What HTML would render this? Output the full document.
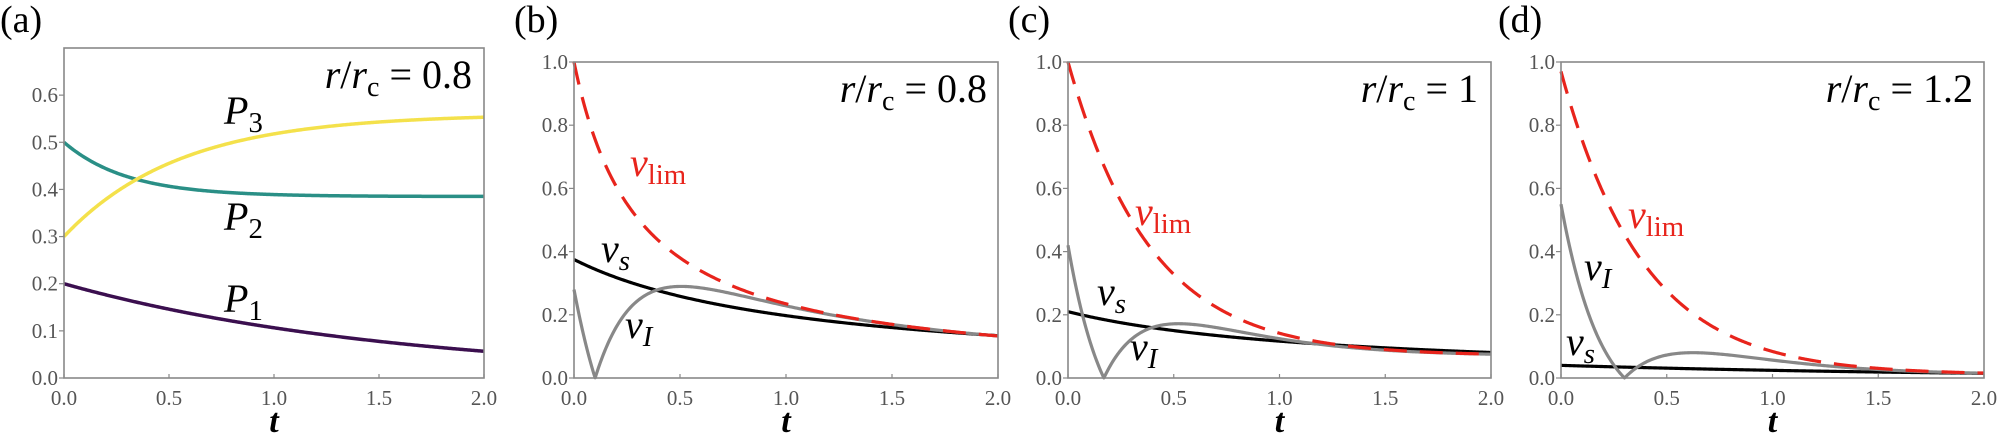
<!DOCTYPE html>
<html><head><meta charset="utf-8"></head>
<body style="margin:0;padding:0;background:#fff;">
<svg id="s" width="1998" height="435" viewBox="0 0 1998 435" xmlns="http://www.w3.org/2000/svg" style="display:block;font-family:'Liberation Serif','DejaVu Serif',serif;">
<text x="0" y="32" style="font-family:'Liberation Serif','DejaVu Serif',serif;font-size:38px;fill:#000;">(a)</text>
<text x="514" y="32" style="font-family:'Liberation Serif','DejaVu Serif',serif;font-size:38px;fill:#000;">(b)</text>
<text x="1008" y="32" style="font-family:'Liberation Serif','DejaVu Serif',serif;font-size:38px;fill:#000;">(c)</text>
<text x="1498" y="32" style="font-family:'Liberation Serif','DejaVu Serif',serif;font-size:38px;fill:#000;">(d)</text>
</svg>
<script>
var S=document.getElementById('s'),NS='http://www.w3.org/2000/svg';
var FF="font-family:'Liberation Serif','DejaVu Serif',serif;";
function el(t,a,txt){var e=document.createElementNS(NS,t);for(var k in a)e.setAttribute(k,a[k]);if(txt!==undefined)e.innerHTML=txt;S.appendChild(e);return e;}
function panel(x0,x1,y0,y1,ymax,yticks,curves){
  var X=function(t){return x0+(x1-x0)*t/2;},Y=function(v){return y1-(y1-y0)*v/ymax;};
  curves.forEach(function(c){
    var d='';for(var i=0;i<=400;i++){var t=2*i/400;var v=c.f(t);d+=(i?'L':'M')+X(t).toFixed(2)+' '+Y(v).toFixed(2);}
    var a={d:d,fill:'none',stroke:c.col,'stroke-width':c.w||3.2,'stroke-linejoin':'round'};
    if(c.dash)a['stroke-dasharray']=c.dash;
    el('path',a);
  });
  el('rect',{x:x0,y:y0,width:x1-x0,height:y1-y0,fill:'none',stroke:'#888','stroke-width':1.6});
  yticks.forEach(function(v){var y=Y(v);el('line',{x1:x0-5,y1:y,x2:x0,y2:y,stroke:'#888','stroke-width':1.2});
    el('text',{x:x0-6,y:y+7,'text-anchor':'end',style:FF+'font-size:21px;fill:#555;'},v.toFixed(1));});
  [0,0.5,1,1.5,2].forEach(function(t){var x=X(t);el('line',{x1:x,y1:y1,x2:x,y2:y1-4,stroke:'#888','stroke-width':1.2});
    el('text',{x:x,y:405,'text-anchor':'middle',style:FF+'font-size:21px;fill:#555;'},t.toFixed(1));});
  el('text',{x:(x0+x1)/2,y:432,'text-anchor':'middle',style:FF+'font-size:34px;font-style:italic;font-weight:bold;fill:#000;'},'t');
}
function ann(xr,y,val){el('text',{x:xr,y:y,'text-anchor':'end',style:FF+'font-size:40px;fill:#000;'},'<tspan style="font-style:italic">r</tspan>/<tspan style="font-style:italic">r</tspan><tspan style="font-size:28px" dy="8">c</tspan><tspan dy="-8"> = '+val+'</tspan>');}
function sub(x,y,main,s,col){var sz=40;el('text',{x:x,y:y,style:FF+'font-size:'+sz+'px;fill:'+(col||'#000')+';'},'<tspan style="font-style:italic">'+main+'</tspan><tspan style="font-size:'+(sz*0.72)+'px;'+(s.it?'font-style:italic;':'')+'" dy="8">'+s.t+'</tspan>');}
var RED='#e8241c',GR='#888';
panel(64,484,48,378,0.7,[0,0.1,0.2,0.3,0.4,0.5,0.6],[
 {f:function(t){return 0.2*Math.exp(-0.63*t);},col:'#3b0f4f',w:3.5},
 {f:function(t){return 0.385+0.115*Math.exp(-t/0.3);},col:'#2a8f86',w:3.5},
 {f:function(t){return 0.56-0.26*Math.exp(-t/0.55);},col:'#f4e14b',w:3.5}]);
ann(472,88,'0.8');
sub(224,124,'P',{t:'3'});sub(224,230,'P',{t:'2'});sub(224,312,'P',{t:'1'});
var vb=function(t){return 1/(1+3.26*t);};
panel(574,998,62,378,1,[0,0.2,0.4,0.6,0.8,1.0],[
 {f:function(t){return 0.375/(1+0.9*t);},col:'#000'},
 {f:function(t){return Math.abs(vb(t)-1.28*Math.exp(-5.3*t));},col:GR},
 {f:vb,col:RED,dash:'23 13'}]);
ann(987,102,'0.8');
sub(630,176,'v',{t:'lim'},RED);sub(601,262,'v',{t:'s',it:1});sub(625,338,'v',{t:'I',it:1});
var vc=function(t){return 0.07+0.93*Math.exp(-t/0.39);};
panel(1068,1491,62,378,1,[0,0.2,0.4,0.6,0.8,1.0],[
 {f:function(t){return 0.21/(1+0.8*t);},col:'#000'},
 {f:function(t){return Math.abs(vc(t)-1.42*Math.exp(-4.41*t));},col:GR},
 {f:vc,col:RED,dash:'23 13'}]);
ann(1478,102,'1');
sub(1135,225,'v',{t:'lim'},RED);sub(1097,305,'v',{t:'s',it:1});sub(1130,360,'v',{t:'I',it:1});
var vd=function(t){return 0.01+0.96*Math.exp(-t/0.39);};
panel(1561,1984,62,378,1,[0,0.2,0.4,0.6,0.8,1.0],[
 {f:function(t){return 0.04*Math.exp(-0.5*t);},col:'#000'},
 {f:function(t){return Math.abs(vd(t)-1.52*Math.exp(-4.02*t));},col:GR},
 {f:vd,col:RED,dash:'23 13'}]);
ann(1973,102,'1.2');
sub(1628,228,'v',{t:'lim'},RED);sub(1584,280,'v',{t:'I',it:1});sub(1566,355,'v',{t:'s',it:1});
</script>
</body></html>
